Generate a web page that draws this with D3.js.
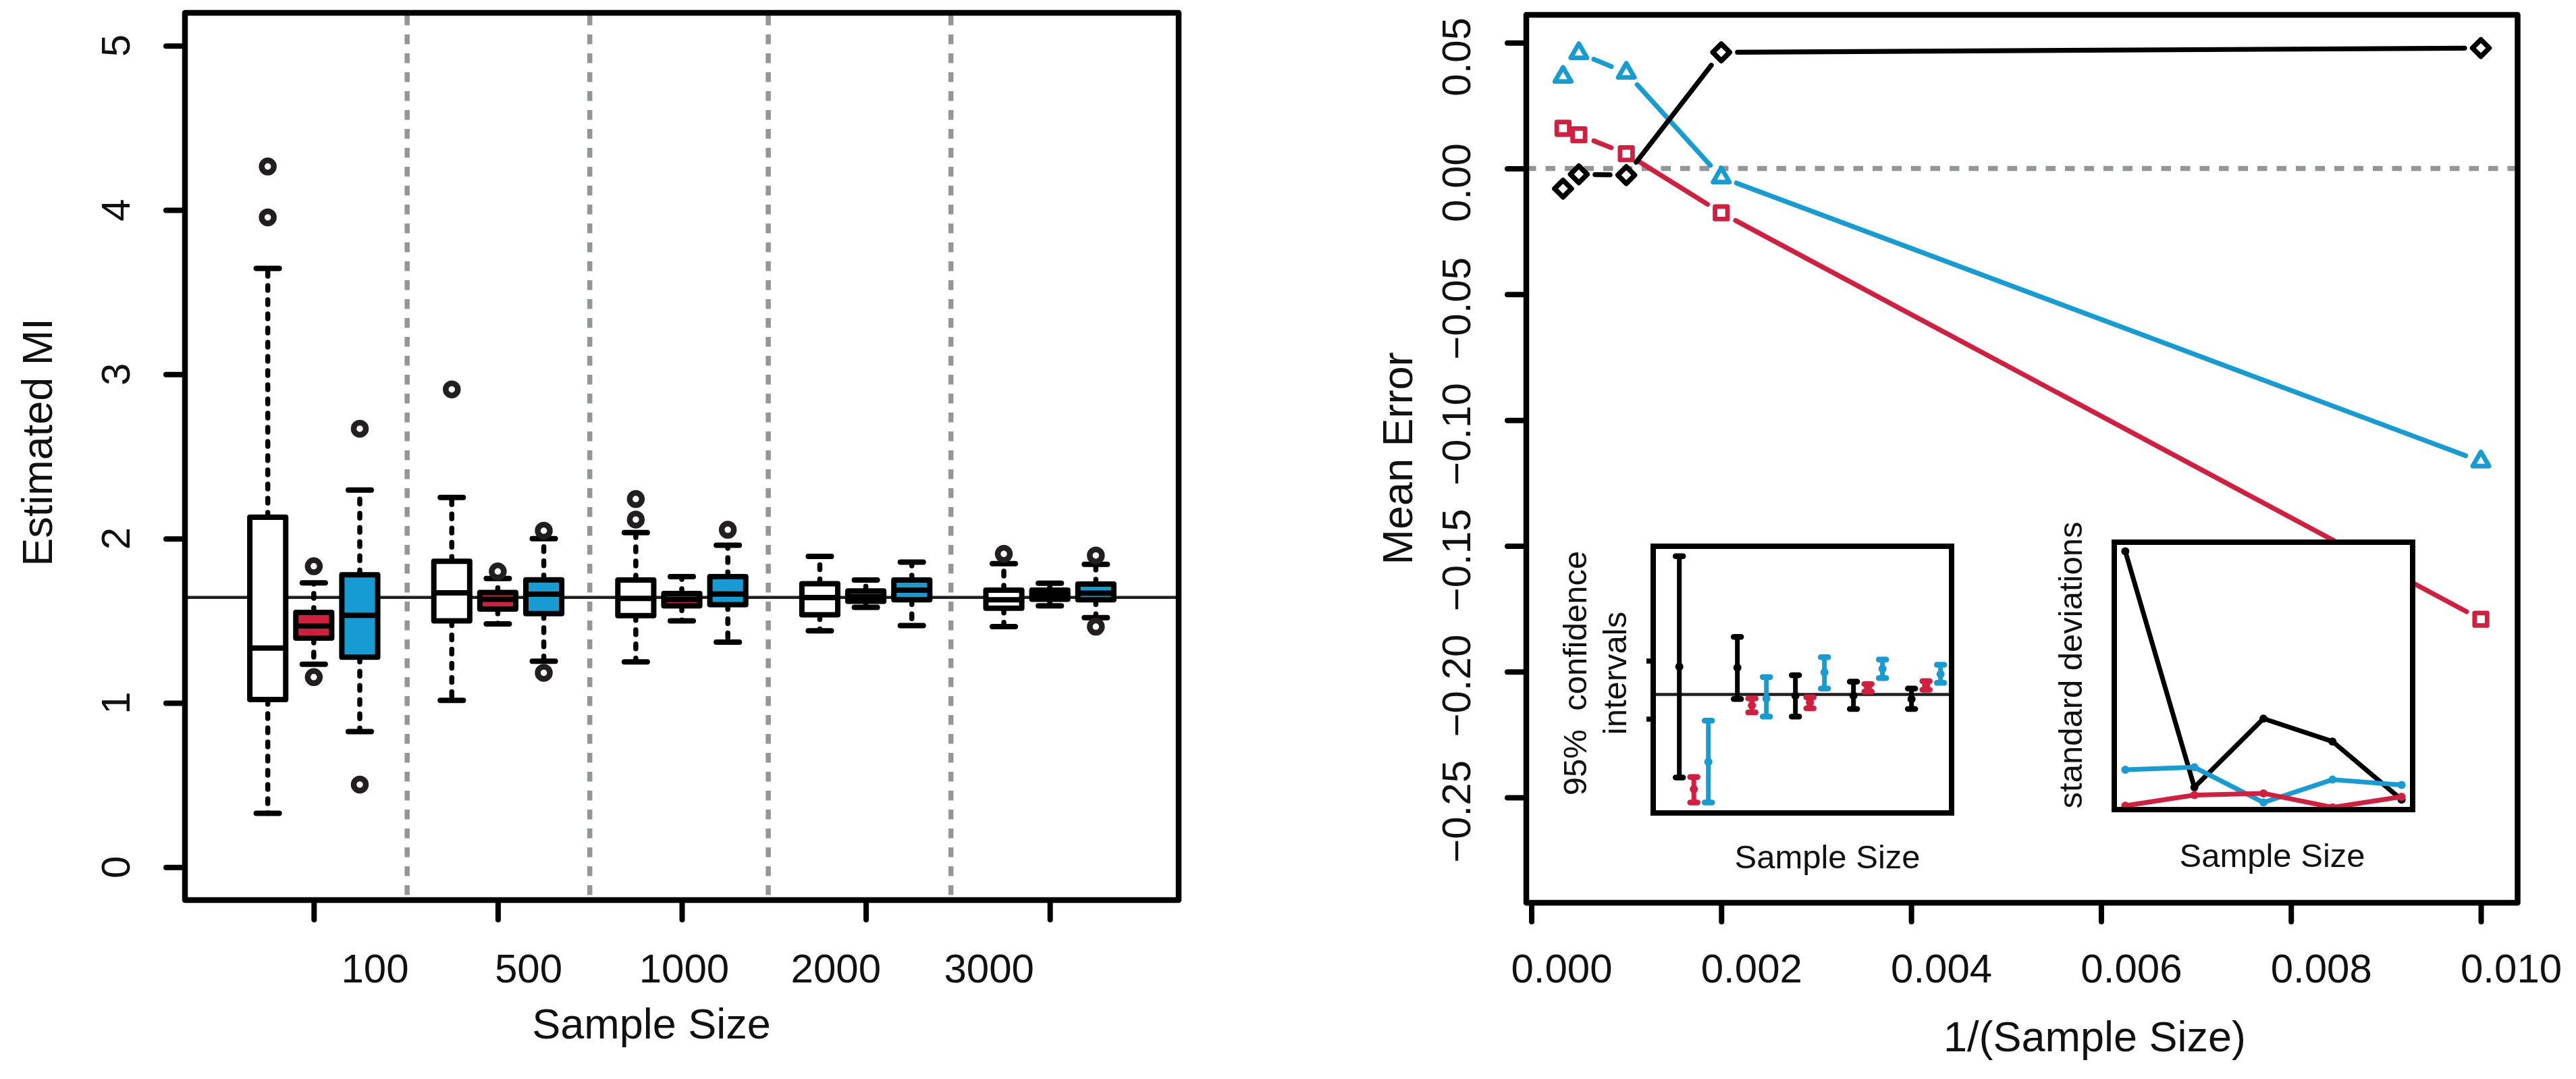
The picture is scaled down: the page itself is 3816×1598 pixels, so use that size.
<!DOCTYPE html>
<html><head><meta charset="utf-8">
<script src="https://cdn.jsdelivr.net/npm/d3@7"></script>
<style>
html,body{margin:0;padding:0;background:#fff;}
svg{display:block;}
text{font-family:"Liberation Sans",Arial,Helvetica,sans-serif;fill:#111;}
</style>
</head><body>
<svg id="c" width="3816" height="1598"></svg>
<script>
// ---------------- DATA ----------------
const sampleSizes = ["100", "500", "1000", "2000", "3000"];
// box stats per sample size: [lowerWhisker, Q1, median, Q3, upperWhisker]
const whiteStats = [[0.328,1.021,1.334,2.130,3.645],[1.015,1.499,1.670,1.862,2.250],[1.250,1.531,1.636,1.748,2.037],[1.439,1.536,1.641,1.725,1.892],[1.464,1.576,1.628,1.686,1.848]];
const redStats   = [[1.235,1.395,1.468,1.551,1.730],[1.481,1.571,1.631,1.672,1.757],[1.499,1.591,1.630,1.666,1.768],[1.581,1.619,1.645,1.681,1.748],[1.591,1.631,1.660,1.686,1.728]];
const blueStats  = [[0.825,1.278,1.533,1.780,2.296],[1.254,1.544,1.662,1.749,2.000],[1.370,1.598,1.663,1.768,1.960],[1.471,1.628,1.686,1.748,1.857],[1.519,1.628,1.668,1.723,1.843]];
const whiteOutliers = [[4.265,3.955],[2.908],[2.241,2.116],[],[1.907]];
const redOutliers   = [[1.832,1.157],[1.800],[],[],[]];
const blueOutliers  = [[2.669,0.503],[2.048,1.183],[2.054],[],[1.897,1.464]];
const trueMI = 1.642;
const leftYTicks = [0, 1, 2, 3, 4, 5];
const leftXTickPos = [2, 6, 10, 14, 18];
const leftXLabelPos = [3.33, 6.67, 10.05, 13.35, 16.68];
const separatorPos = [4.03, 8.0, 11.88, 15.85];

// right panel: mean error vs 1/(sample size)
const invSampleSize = [1/3000, 1/2000, 1/1000, 1/500, 1/100];
const meanErrBlack = [-0.0080, -0.0023, -0.0026, 0.0462, 0.0479];
const meanErrBlue  = [0.0365, 0.0459, 0.0381, -0.0035, -0.1164];
const meanErrRed   = [0.0160, 0.0134, 0.0059, -0.0176, -0.1792];
const rightYTicks = [0.05, 0, -0.05, -0.10, -0.15, -0.20, -0.25];
const rightYLabels = ["0.05", "0.00", "\u22120.05", "\u22120.10", "\u22120.15", "\u22120.20", "\u22120.25"];
const rightXTicks = [0, 0.002, 0.004, 0.006, 0.008, 0.010];
const rightXLabels = ["0.000", "0.002", "0.004", "0.006", "0.008", "0.010"];

// inset 1: 95% confidence intervals of estimated MI (sample sizes 100..3000)
const ciBlackMid = [1.690, 1.688, 1.640, 1.640, 1.634];
const ciBlackLo  = [1.499, 1.634, 1.604, 1.617, 1.617];
const ciBlackHi  = [1.880, 1.741, 1.675, 1.664, 1.652];
const ciRedMid   = [1.479, 1.623, 1.628, 1.654, 1.658];
const ciRedLo    = [1.456, 1.611, 1.618, 1.647, 1.650];
const ciRedHi    = [1.500, 1.635, 1.637, 1.660, 1.665];
const ciBlueMid  = [1.526, 1.635, 1.680, 1.686, 1.677];
const ciBlueLo   = [1.456, 1.604, 1.652, 1.670, 1.662];
const ciBlueHi   = [1.597, 1.672, 1.706, 1.702, 1.693];
const insetTicks = [1.6, 1.7];

// inset 2: standard deviations
const sdBlack = [0.8085, 0.2525, 0.4143, 0.3604, 0.2234];
const sdBlue  = [0.2939, 0.2998, 0.2167, 0.2706, 0.2582];
const sdRed   = [0.2092, 0.2342, 0.2383, 0.2051, 0.2301];

// ---------------- STYLE ----------------
const RED = "#D11F40", BLUE = "#169CD2", DARK = "#231F20", GRAY = "#939598", BLACK = "#000";
const FONT_TICK = 60, FONT_TITLE = 63, FONT_INSET = 49;

const svg = d3.select("#c");
svg.append("rect").attr("width", 3816).attr("height", 1598).attr("fill", "#fff");

// ================= LEFT PANEL =================
const L = {x0: 274, x1: 1746, y0: 19, y1: 1333};
const xL = d3.scaleLinear().domain([-0.8, 20.8]).range([L.x0, L.x1]);
const yL = d3.scaleLinear().domain([-0.2, 5.2]).range([L.y1, L.y0]);
const gL = svg.append("g");

// separators
gL.selectAll("line.sep").data(separatorPos).join("line")
  .attr("x1", d => xL(d)).attr("x2", d => xL(d))
  .attr("y1", L.y0 + 4).attr("y2", L.y1)
  .attr("stroke", GRAY).attr("stroke-width", 7.5).attr("stroke-dasharray", "14.5 13.5");

// true MI reference line
gL.append("line").attr("x1", L.x0).attr("x2", L.x1)
  .attr("y1", yL(trueMI)).attr("y2", yL(trueMI))
  .attr("stroke", DARK).attr("stroke-width", 4.5);

const methods = [
  {stats: whiteStats, out: whiteOutliers, fill: "#FFFFFF"},
  {stats: redStats, out: redOutliers, fill: RED},
  {stats: blueStats, out: blueOutliers, fill: BLUE}
];
const boxes = [];
methods.forEach((m, mi) => {
  m.stats.forEach((s, gi) => {
    boxes.push({pos: 4 * gi + mi + 1, s: s, out: m.out[gi], fill: m.fill});
  });
});
const halfBox = 0.39, halfStaple = 0.25;
const bg = gL.selectAll("g.box").data(boxes).join("g");
// whiskers
bg.append("line").attr("x1", d => xL(d.pos)).attr("x2", d => xL(d.pos))
  .attr("y1", d => yL(d.s[3])).attr("y2", d => yL(d.s[4]))
  .attr("stroke", BLACK).attr("stroke-width", 7.5).attr("stroke-dasharray", "7 14").attr("stroke-linecap", "round");
bg.append("line").attr("x1", d => xL(d.pos)).attr("x2", d => xL(d.pos))
  .attr("y1", d => yL(d.s[1])).attr("y2", d => yL(d.s[0]))
  .attr("stroke", BLACK).attr("stroke-width", 7.5).attr("stroke-dasharray", "7 14").attr("stroke-linecap", "round");
// staples
[0, 4].forEach(k => {
  bg.append("line").attr("x1", d => xL(d.pos - halfStaple)).attr("x2", d => xL(d.pos + halfStaple))
    .attr("y1", d => yL(d.s[k])).attr("y2", d => yL(d.s[k]))
    .attr("stroke", BLACK).attr("stroke-width", 8).attr("stroke-linecap", "round");
});
// box
bg.append("rect").attr("x", d => xL(d.pos - halfBox)).attr("width", d => xL(d.pos + halfBox) - xL(d.pos - halfBox))
  .attr("y", d => yL(d.s[3])).attr("height", d => yL(d.s[1]) - yL(d.s[3]))
  .attr("fill", d => d.fill).attr("stroke", BLACK).attr("stroke-width", 8).attr("stroke-linejoin", "round");
// median
bg.append("line").attr("x1", d => xL(d.pos - halfBox)).attr("x2", d => xL(d.pos + halfBox))
  .attr("y1", d => yL(d.s[2])).attr("y2", d => yL(d.s[2]))
  .attr("stroke", BLACK).attr("stroke-width", 8);
// outliers
bg.each(function(d) {
  d3.select(this).selectAll("circle").data(d.out).join("circle")
    .attr("cx", xL(d.pos)).attr("cy", v => yL(v)).attr("r", 9)
    .attr("fill", "none").attr("stroke", DARK).attr("stroke-width", 8.5);
});

// axes (ticks via d3 axis)
const axLY = gL.append("g").attr("transform", `translate(${L.x0},0)`)
  .call(d3.axisLeft(yL).tickValues(leftYTicks).tickSize(28).tickFormat(""));
const axLX = gL.append("g").attr("transform", `translate(0,${L.y1})`)
  .call(d3.axisBottom(xL).tickValues(leftXTickPos).tickSize(29).tickFormat(""));
[axLY, axLX].forEach(a => {
  a.select(".domain").remove();
  a.selectAll(".tick line").attr("stroke", BLACK).attr("stroke-width", 8).attr("stroke-linecap", "round");
});
gL.selectAll("text.ylab").data(leftYTicks).join("text")
  .attr("transform", d => `translate(192,${yL(d)}) rotate(-90)`)
  .attr("text-anchor", "middle").attr("font-size", FONT_TICK).text(d => String(d));
gL.selectAll("text.xlab").data(sampleSizes).join("text")
  .attr("x", (d, i) => xL(leftXLabelPos[i])).attr("y", 1454.6)
  .attr("text-anchor", "middle").attr("font-size", FONT_TICK).text(d => d);
gL.append("text").attr("x", 965).attr("y", 1537.6).attr("text-anchor", "middle")
  .attr("font-size", FONT_TITLE).text("Sample Size");
gL.append("text").attr("transform", "translate(76.8,655) rotate(-90)").attr("text-anchor", "middle")
  .attr("font-size", FONT_TITLE).text("Estimated MI");
// frame
gL.append("rect").attr("x", L.x0).attr("y", L.y0).attr("width", L.x1 - L.x0).attr("height", L.y1 - L.y0)
  .attr("fill", "none").attr("stroke", BLACK).attr("stroke-width", 8.5).attr("stroke-linejoin", "round");

// ================= RIGHT PANEL =================
const R = {x0: 2261, x1: 3729.5, y0: 22, y1: 1337};
const xR = d3.scaleLinear().domain([-0.0000533, 0.010387]).range([R.x0, R.x1]);
const yR = d3.scaleLinear().domain([-0.2919, 0.0611]).range([R.y1, R.y0]);
const gR = svg.append("g");

gR.append("line").attr("x1", R.x0).attr("x2", R.x1).attr("y1", yR(0)).attr("y2", yR(0))
  .attr("stroke", GRAY).attr("stroke-width", 7.5).attr("stroke-dasharray", "14.5 14");

function gapSegments(vals, gap) {
  const pts = vals.map((v, i) => [xR(invSampleSize[i]), yR(v)]);
  const segs = [];
  for (let i = 0; i < pts.length - 1; i++) {
    const p = pts[i], q = pts[i + 1];
    const dx = q[0] - p[0], dy = q[1] - p[1], d = Math.hypot(dx, dy);
    if (d > 2 * gap) segs.push([p[0] + dx * gap / d, p[1] + dy * gap / d, q[0] - dx * gap / d, q[1] - dy * gap / d]);
  }
  return segs;
}
const series = [
  {vals: meanErrRed, color: RED, shape: "square"},
  {vals: meanErrBlue, color: BLUE, shape: "triangle"},
  {vals: meanErrBlack, color: BLACK, shape: "diamond"}
];
const shapePath = {
  square: "M-9.25,-9.25H9.25V9.25H-9.25Z",
  triangle: "M0,-14L12.12,7L-12.12,7Z",
  diamond: "M0,-12.5L12.5,0L0,12.5L-12.5,0Z"
};
series.forEach(s => {
  gR.selectAll(null).data(gapSegments(s.vals, 24)).join("line")
    .attr("x1", d => d[0]).attr("y1", d => d[1]).attr("x2", d => d[2]).attr("y2", d => d[3])
    .attr("stroke", s.color).attr("stroke-width", 7.2).attr("stroke-linecap", "round");
  gR.selectAll(null).data(s.vals).join("path")
    .attr("transform", (v, i) => `translate(${xR(invSampleSize[i])},${yR(v)})`)
    .attr("d", shapePath[s.shape]).attr("fill", "none").attr("stroke", s.color)
    .attr("stroke-width", s.shape === "diamond" ? 7.5 : 6.8).attr("stroke-linejoin", "round");
});

const axRY = gR.append("g").attr("transform", `translate(${R.x0},0)`)
  .call(d3.axisLeft(yR).tickValues(rightYTicks).tickSize(28).tickFormat(""));
const axRX = gR.append("g").attr("transform", `translate(0,${R.y1})`)
  .call(d3.axisBottom(xR).tickValues(rightXTicks).tickSize(28).tickFormat(""));
[axRY, axRX].forEach(a => {
  a.select(".domain").remove();
  a.selectAll(".tick line").attr("stroke", BLACK).attr("stroke-width", 8).attr("stroke-linecap", "round");
});
gR.selectAll("text.ylab").data(rightYTicks).join("text")
  .attr("transform", d => `translate(2178,${yR(d) + 21}) rotate(-90)`)
  .attr("text-anchor", "middle").attr("font-size", FONT_TICK).text((d, i) => rightYLabels[i]);
gR.selectAll("text.xlab").data(rightXTicks).join("text")
  .attr("x", d => xR(d) + 45).attr("y", 1454.6)
  .attr("text-anchor", "middle").attr("font-size", FONT_TICK).text((d, i) => rightXLabels[i]);
gR.append("text").attr("x", 3103).attr("y", 1556.8).attr("text-anchor", "middle")
  .attr("font-size", FONT_TITLE).text("1/(Sample Size)");
gR.append("text").attr("transform", "translate(2092,679) rotate(-90)").attr("text-anchor", "middle")
  .attr("font-size", FONT_TITLE).text("Mean Error");

// ---------- inset 1: confidence intervals ----------
const I1 = {x0: 2449, x1: 2891, y0: 809, y1: 1204};
const xI1 = d3.scaleLinear().domain([0.3, 5.44]).range([I1.x0, I1.x1]);
const yI1 = d3.scaleLinear().domain([1.438, 1.897]).range([I1.y1, I1.y0]);
const gI1 = gR.append("g");
gI1.append("rect").attr("x", I1.x0).attr("y", I1.y0).attr("width", I1.x1 - I1.x0).attr("height", I1.y1 - I1.y0).attr("fill", "#fff");
gI1.append("line").attr("x1", I1.x0).attr("x2", I1.x1).attr("y1", yI1(trueMI)).attr("y2", yI1(trueMI))
  .attr("stroke", DARK).attr("stroke-width", 4.4);
const ciSets = [
  {mid: ciBlackMid, lo: ciBlackLo, hi: ciBlackHi, color: BLACK, off: -0.25},
  {mid: ciRedMid, lo: ciRedLo, hi: ciRedHi, color: RED, off: 0},
  {mid: ciBlueMid, lo: ciBlueLo, hi: ciBlueHi, color: BLUE, off: 0.25}
];
ciSets.forEach(c => {
  const data = c.mid.map((m, i) => ({x: i + 1 + c.off, m: m, lo: c.lo[i], hi: c.hi[i]}));
  const eg = gI1.selectAll(null).data(data).join("g");
  eg.append("line").attr("x1", d => xI1(d.x)).attr("x2", d => xI1(d.x))
    .attr("y1", d => yI1(d.lo)).attr("y2", d => yI1(d.hi))
    .attr("stroke", c.color).attr("stroke-width", 7);
  ["lo", "hi"].forEach(k => {
    eg.append("line").attr("x1", d => xI1(d.x) - 5.5).attr("x2", d => xI1(d.x) + 5.5)
      .attr("y1", d => yI1(d[k])).attr("y2", d => yI1(d[k]))
      .attr("stroke", c.color).attr("stroke-width", 8.5).attr("stroke-linecap", "round");
  });
  eg.append("circle").attr("cx", d => xI1(d.x)).attr("cy", d => yI1(d.m)).attr("r", 6).attr("fill", c.color);
});
const axI1 = gI1.append("g").attr("transform", `translate(${I1.x0},0)`)
  .call(d3.axisLeft(yI1).tickValues(insetTicks).tickSize(10).tickFormat(""));
axI1.select(".domain").remove();
axI1.selectAll(".tick line").attr("stroke", BLACK).attr("stroke-width", 7.5);
gI1.append("rect").attr("x", I1.x0).attr("y", I1.y0).attr("width", I1.x1 - I1.x0).attr("height", I1.y1 - I1.y0)
  .attr("fill", "none").attr("stroke", BLACK).attr("stroke-width", 8);
gI1.append("text").attr("transform", "translate(2349.8,997) rotate(-90)").attr("text-anchor", "middle")
  .attr("font-size", FONT_INSET).attr("xml:space", "preserve").style("white-space", "pre").text("95%  confidence");
gI1.append("text").attr("transform", "translate(2409.3,997) rotate(-90)").attr("text-anchor", "middle")
  .attr("font-size", FONT_INSET).text("intervals");
gI1.append("text").attr("x", 2707).attr("y", 1286).attr("text-anchor", "middle")
  .attr("font-size", FONT_INSET).text("Sample Size");

// ---------- inset 2: standard deviations ----------
const I2 = {x0: 3132, x1: 3574, y0: 803, y1: 1199};
const xI2 = d3.scaleLinear().domain([0.84, 5.16]).range([I2.x0, I2.x1]);
const yI2 = d3.scaleLinear().domain([0.2, 0.83]).range([I2.y1, I2.y0]);
const gI2 = gR.append("g");
gI2.append("rect").attr("x", I2.x0).attr("y", I2.y0).attr("width", I2.x1 - I2.x0).attr("height", I2.y1 - I2.y0).attr("fill", "#fff");
const clip = svg.append("defs").append("clipPath").attr("id", "clipI2");
clip.append("rect").attr("x", I2.x0).attr("y", I2.y0).attr("width", I2.x1 - I2.x0).attr("height", I2.y1 - I2.y0);
const gI2c = gI2.append("g").attr("clip-path", "url(#clipI2)");
const sdLine = d3.line().x((v, i) => xI2(i + 1)).y(v => yI2(v));
[{vals: sdBlack, color: BLACK}, {vals: sdBlue, color: BLUE}, {vals: sdRed, color: RED}].forEach(s => {
  gI2c.append("path").attr("d", sdLine(s.vals)).attr("fill", "none").attr("stroke", s.color)
    .attr("stroke-width", 7).attr("stroke-linejoin", "round");
  gI2c.selectAll(null).data(s.vals).join("circle")
    .attr("cx", (v, i) => xI2(i + 1)).attr("cy", v => yI2(v)).attr("r", 6).attr("fill", s.color);
});
gI2.append("rect").attr("x", I2.x0).attr("y", I2.y0).attr("width", I2.x1 - I2.x0).attr("height", I2.y1 - I2.y0)
  .attr("fill", "none").attr("stroke", BLACK).attr("stroke-width", 8);
gI2.append("text").attr("transform", "translate(3084.4,985) rotate(-90)").attr("text-anchor", "middle")
  .attr("font-size", FONT_INSET).text("standard deviations");
gI2.append("text").attr("x", 3366).attr("y", 1284).attr("text-anchor", "middle")
  .attr("font-size", FONT_INSET).text("Sample Size");

// right frame
gR.append("rect").attr("x", R.x0).attr("y", R.y0).attr("width", R.x1 - R.x0).attr("height", R.y1 - R.y0)
  .attr("fill", "none").attr("stroke", BLACK).attr("stroke-width", 8.5).attr("stroke-linejoin", "round");
</script>
</body></html>
